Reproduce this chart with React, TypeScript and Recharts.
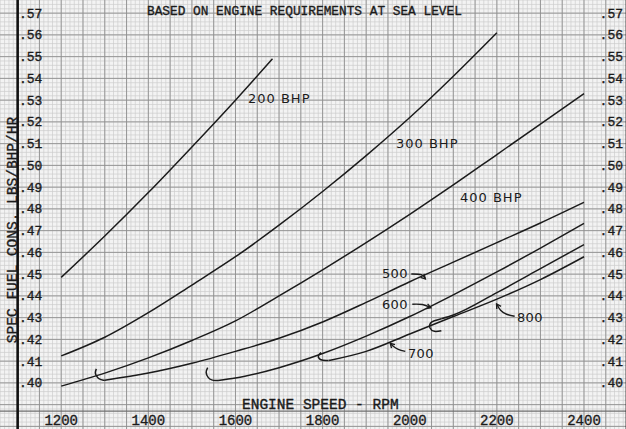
import React from 'react';
import { LineChart, Line, XAxis, YAxis, ReferenceLine } from 'recharts';

type P = { rpm: number; v: number };
const pts = (a: number[][]): P[] => a.map(([rpm, v]) => ({ rpm, v }));

// ---- tick labels ----
const rpmTicks = [1200, 1400, 1600, 1800, 2000, 2200, 2400];
const sfcTicks = [0.4, 0.41, 0.42, 0.43, 0.44, 0.45, 0.46, 0.47, 0.48, 0.49, 0.5, 0.51, 0.52, 0.53, 0.54, 0.55, 0.56, 0.57];

// ---- series (engine speed rpm, spec fuel cons lbs/bhp/hr) ----
const bhp200 = pts([[1200, 0.4485], [1300, 0.4675], [1400, 0.4875], [1500, 0.5085], [1600, 0.53], [1685, 0.549]]);
const bhp300 = pts([[1200, 0.4124], [1300, 0.421], [1400, 0.4323], [1500, 0.445], [1600, 0.458], [1700, 0.4725], [1800, 0.488], [1900, 0.5045], [2000, 0.522], [2100, 0.541], [2200, 0.561]]);
const bhp400 = pts([[1200, 0.3985], [1300, 0.4045], [1400, 0.4115], [1500, 0.4195], [1600, 0.4285], [1700, 0.44], [1800, 0.452], [1900, 0.4645], [2000, 0.4775], [2100, 0.491], [2200, 0.505], [2300, 0.519], [2400, 0.533]]);

const bhp500Hook = pts([[1280.6, 0.40645], [1278.3, 0.40461], [1281.7, 0.403], [1287.5, 0.40184], [1296.7, 0.40124], [1300, 0.4012]]);
const bhp500 = pts([[1300, 0.4012], [1400, 0.4045], [1500, 0.409], [1600, 0.4145], [1700, 0.4205], [1800, 0.428], [1900, 0.437], [2000, 0.4465], [2100, 0.4555], [2200, 0.4645], [2300, 0.4735], [2400, 0.483]]);

const bhp600Hook = pts([[1536.2, 0.40705], [1532.7, 0.40484], [1537.3, 0.40253], [1545.4, 0.40138], [1554.6, 0.4011], [1560, 0.4011]]);
const bhp600 = pts([[1560, 0.4011], [1600, 0.4022], [1700, 0.407], [1800, 0.4135], [1900, 0.4215], [2000, 0.4305], [2100, 0.4405], [2200, 0.451], [2300, 0.462], [2400, 0.4733]]);

const bhp700Hook = pts([[1796.4, 0.41396], [1790.2, 0.41244], [1792.9, 0.41106], [1801, 0.41037], [1812.5, 0.41032], [1815, 0.4103]]);
const bhp700 = pts([[1815, 0.4103], [1900, 0.4145], [2000, 0.4225], [2100, 0.4305], [2200, 0.4385], [2300, 0.4475], [2400, 0.458]]);

const bhp800Hook = pts([[2072.6, 0.424], [2056.6, 0.4237], [2046.2, 0.42535], [2047.4, 0.4274], [2056.6, 0.42857], [2072.6, 0.42949]]);
const bhp800 = pts([[2072.6, 0.42949], [2100, 0.4312], [2200, 0.4415], [2300, 0.4525], [2400, 0.4636]]);

// ---- annotation arrows (data units) ----
const arrow500 = pts([[2003.6, 0.45009], [2026.6, 0.44977], [2035.8, 0.44793]]);
const head500 = pts([[2032.8, 0.45014], [2035.8, 0.44779], [2024.8, 0.44852]]);
const arrow600 = pts([[2005.9, 0.43617], [2028.9, 0.43604], [2046.2, 0.43479]]);
const head600 = pts([[2041.1, 0.43631], [2048.5, 0.43456], [2037.2, 0.43415]]);
const arrow700 = pts([[1989.8, 0.41452], [1973.7, 0.41544], [1962.2, 0.41682], [1956.4, 0.41797]]);
const head700 = pts([[1958.2, 0.41599], [1955.3, 0.4182], [1966.3, 0.4176]]);
const arrow800 = pts([[2240.8, 0.43064], [2222.4, 0.43157], [2208.5, 0.43341], [2200.5, 0.43594]]);
const head800 = pts([[2199.8, 0.43396], [2199.3, 0.43627], [2209.5, 0.43521]]);

const curveLabels = ['200 BHP', '300 BHP', '400 BHP', '500', '600', '700', '800'];

// ---- layout ----
const W = 626;
const H = 429;
const X_DOMAIN: [number, number] = [1059.5, 2501];
const Y_DOMAIN: [number, number] = [0.37834, 0.57604];
const labelPos = [
  { left: 248, top: 98 },
  { left: 396, top: 143 },
  { left: 460, top: 197 },
  { left: 382, top: 273 },
  { left: 382, top: 304 },
  { left: 408, top: 353 },
  { left: 517, top: 317 },
];

const minorX: number[] = [];
for (let r = 1060; r <= 2500; r += 10) minorX.push(r);
const majorX: number[] = [];
for (let r = 1100; r <= 2500; r += 50) majorX.push(r);
const minorY: number[] = [];
for (let i = 190; i <= 288; i++) minorY.push(i / 500);
const majorY: number[] = [];
for (let i = 38; i <= 57; i++) majorY.push(i / 100);

const MONO = '"Liberation Mono", "DejaVu Sans Mono", monospace';
const SANS = '"DejaVu Sans", "Noto Sans", sans-serif';
const INK = '#1b1b1b';

const fmt = (v: number) => '.' + Math.round(v * 100);

const LeftTick = (p: any) => (
  <text x={19} y={p.y} dy={4.5} fontFamily={MONO} fontSize={13} fill={INK} stroke={INK} strokeWidth={0.35}>
    {fmt(p.payload.value)}
  </text>
);
const RightTick = (p: any) => (
  <text x={623} y={p.y} dy={4.5} textAnchor="end" fontFamily={MONO} fontSize={13} fill={INK} stroke={INK} strokeWidth={0.35}>
    {fmt(p.payload.value)}
  </text>
);
const BottomTick = (p: any) => (
  <text x={p.x} y={425} textAnchor="middle" fontFamily={MONO} fontSize={14} fill={INK} stroke={INK} strokeWidth={0.35}>
    {p.payload.value}
  </text>
);

const curveStyle = { stroke: INK, strokeWidth: 1.5, dot: false as const, isAnimationActive: false, xAxisId: 'x', yAxisId: 'l', dataKey: 'v' };
const typeStyle = { fontFamily: MONO, lineHeight: 1, color: INK, whiteSpace: 'nowrap' as const, WebkitTextStroke: '0.35px ' + INK };

export default function App() {
  return (
    <div style={{ position: 'absolute', left: 0, top: 0, width: W, height: H, background: '#f3f3f3', overflow: 'hidden' }}>
      <LineChart width={W + 2} height={H + 1} margin={{ top: 0, right: -1, bottom: -1, left: -1 }} style={{ position: 'absolute', left: 0, top: 0 }}>
        <XAxis xAxisId="x" type="number" dataKey="rpm" domain={X_DOMAIN} allowDataOverflow height={1}
          ticks={rpmTicks} tick={BottomTick} axisLine={false} tickLine={false} interval={0} />
        <YAxis yAxisId="l" type="number" domain={Y_DOMAIN} allowDataOverflow width={1}
          ticks={sfcTicks} tick={LeftTick} axisLine={false} tickLine={false} interval={0} />
        <YAxis yAxisId="r" orientation="right" type="number" domain={Y_DOMAIN} allowDataOverflow width={1}
          ticks={sfcTicks} tick={RightTick} axisLine={false} tickLine={false} interval={0} />

        {minorX.map((r) => (
          <ReferenceLine key={'mx' + r} xAxisId="x" yAxisId="l" x={r} stroke="#cdcdcd" strokeWidth={0.7} />
        ))}
        {minorY.map((v) => (
          <ReferenceLine key={'my' + v} xAxisId="x" yAxisId="l" y={v} stroke="#cdcdcd" strokeWidth={0.7} />
        ))}
        {majorX.map((r) => (
          <ReferenceLine key={'Mx' + r} xAxisId="x" yAxisId="l" x={r} stroke="#8e8e8e" strokeWidth={0.9} />
        ))}
        {majorY.map((v) => (
          <ReferenceLine key={'My' + v} xAxisId="x" yAxisId="l" y={v} stroke="#8e8e8e" strokeWidth={0.9} />
        ))}
        <ReferenceLine xAxisId="x" yAxisId="l" y={0.387} stroke="#6f6f6f" strokeWidth={1.3} />
        <ReferenceLine xAxisId="x" yAxisId="l" x={1100} stroke="#111" strokeWidth={2.6} />
        <ReferenceLine xAxisId="x" yAxisId="l" x={2498} stroke="#222" strokeWidth={2.2} />

        <Line {...curveStyle} data={bhp200} type="monotone" />
        <Line {...curveStyle} data={bhp300} type="monotone" />
        <Line {...curveStyle} data={bhp400} type="monotone" />
        <Line {...curveStyle} data={bhp500Hook} type="natural" />
        <Line {...curveStyle} data={bhp500} type="monotone" />
        <Line {...curveStyle} data={bhp600Hook} type="natural" />
        <Line {...curveStyle} data={bhp600} type="monotone" />
        <Line {...curveStyle} data={bhp700Hook} type="natural" />
        <Line {...curveStyle} data={bhp700} type="monotone" />
        <Line {...curveStyle} data={bhp800Hook} type="natural" />
        <Line {...curveStyle} data={bhp800} type="monotone" />

        <Line {...curveStyle} strokeWidth={1.4} data={arrow500} type="natural" />
        <Line {...curveStyle} strokeWidth={1.4} data={head500} type="linear" />
        <Line {...curveStyle} strokeWidth={1.4} data={arrow600} type="natural" />
        <Line {...curveStyle} strokeWidth={1.4} data={head600} type="linear" />
        <Line {...curveStyle} strokeWidth={1.4} data={arrow700} type="natural" />
        <Line {...curveStyle} strokeWidth={1.4} data={head700} type="linear" />
        <Line {...curveStyle} strokeWidth={1.4} data={arrow800} type="natural" />
        <Line {...curveStyle} strokeWidth={1.4} data={head800} type="linear" />
      </LineChart>

      <div style={{ ...typeStyle, position: 'absolute', left: 147, top: 12, transform: 'translateY(-50%)', fontSize: 12.8 }}>
        BASED ON ENGINE REQUIREMENTS AT SEA LEVEL
      </div>
      <div style={{ ...typeStyle, position: 'absolute', left: 242, top: 405, transform: 'translateY(-50%)', fontSize: 14.5 }}>
        ENGINE SPEED - RPM
      </div>
      <div style={{ ...typeStyle, position: 'absolute', left: 12.5, top: 230, transform: 'translate(-50%, -50%) rotate(-90deg)', fontSize: 14.5 }}>
        SPEC FUEL CONS. LBS/BHP/HR
      </div>
      {curveLabels.map((t, i) => (
        <div key={t} style={{ position: 'absolute', left: labelPos[i].left, top: labelPos[i].top, transform: 'translateY(-50%)', fontFamily: SANS, fontSize: 13, letterSpacing: i < 3 ? 1 : 0.3, lineHeight: 1, color: INK, whiteSpace: 'nowrap' }}>
          {t}
        </div>
      ))}
    </div>
  );
}
